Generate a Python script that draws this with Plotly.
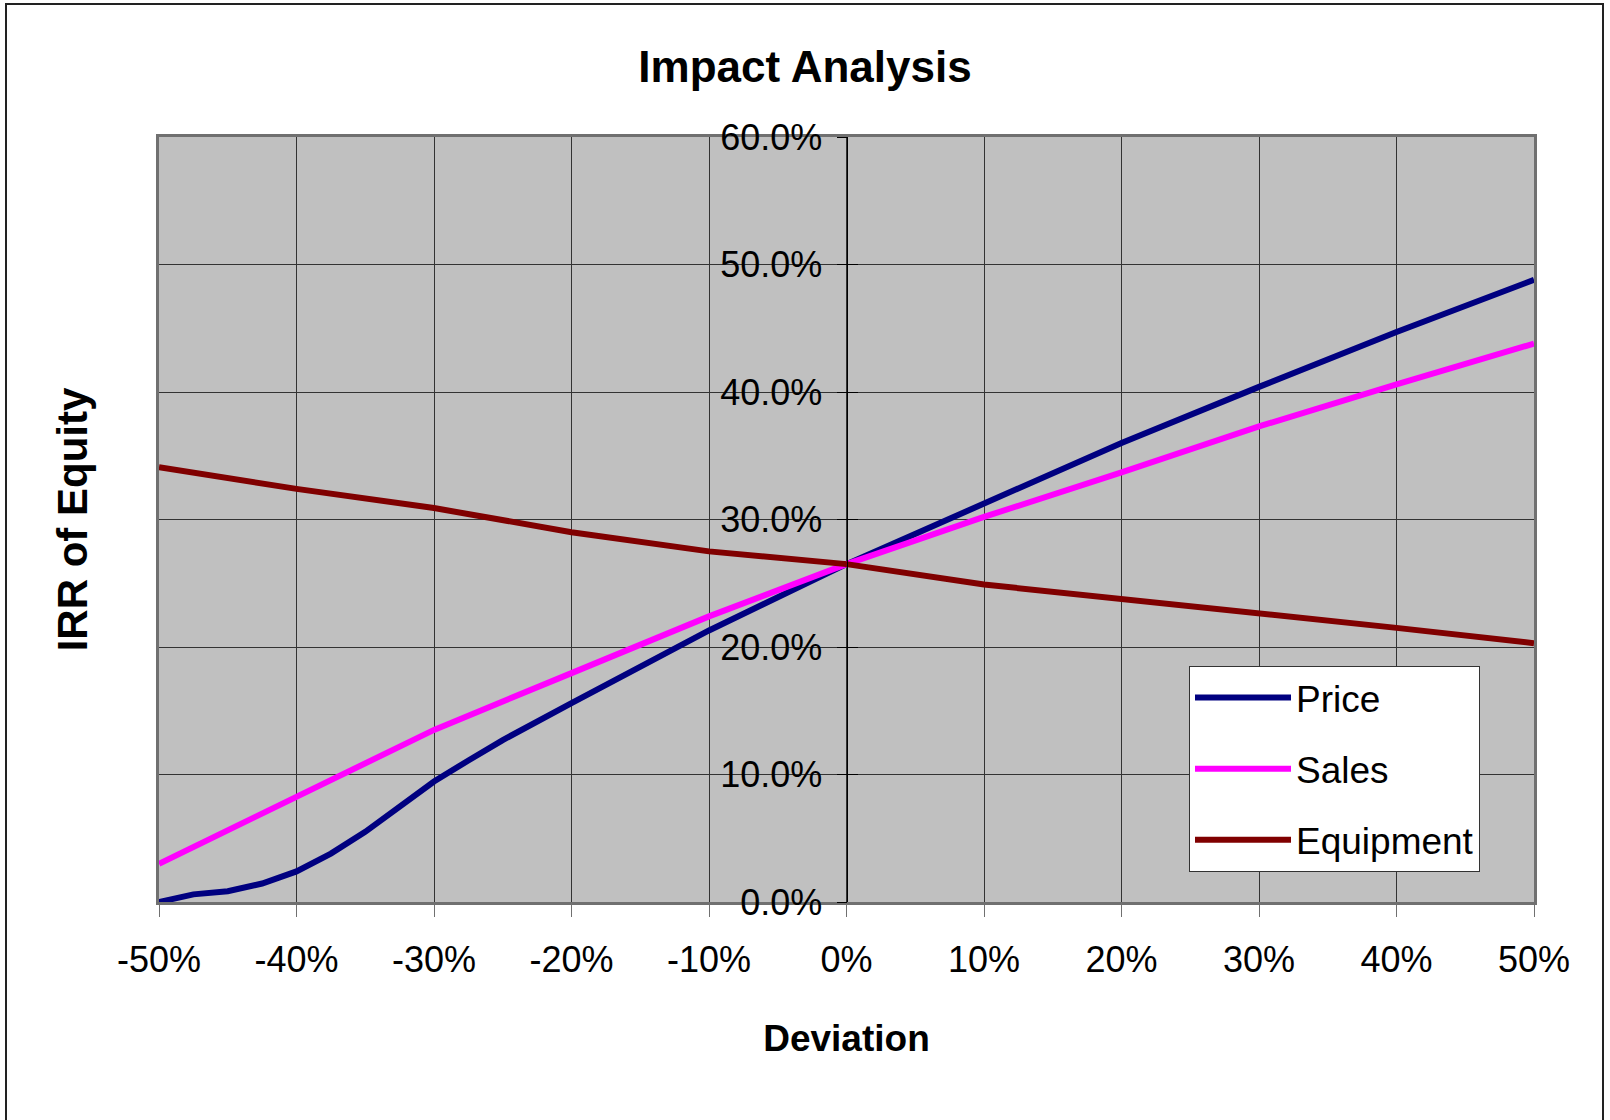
import plotly.graph_objects as go

# ---- data ----
price_x = [-50, -47.5, -45, -42.5, -40, -37.5, -35, -32.5, -30, -27.5, -25, -20, -15, -10, 0, 10, 20, 30, 40, 50]
price_y = [0.0, 0.6, 0.85, 1.45, 2.4, 3.8, 5.5, 7.5, 9.45, 11.1, 12.7, 15.6, 18.4, 21.3, 26.5, 31.3, 36.0, 40.4, 44.7, 48.8]

sales_x = [-50, -40, -30, -20, -10, 0, 10, 20, 30, 40, 50]
sales_y = [3.0, 8.3, 13.5, 17.95, 22.4, 26.5, 30.2, 33.7, 37.3, 40.6, 43.8]

equip_x = [-50, -40, -30, -25, -20, -10, 0, 10, 20, 30, 40, 50]
equip_y = [34.1, 32.4, 30.9, 29.9, 29.0, 27.5, 26.5, 24.9, 23.8, 22.6, 21.5, 20.3]

x_tick_vals = [-50, -40, -30, -20, -10, 0, 10, 20, 30, 40, 50]
x_tick_text = ["-50%", "-40%", "-30%", "-20%", "-10%", "0%", "10%", "20%", "30%", "40%", "50%"]
y_tick_vals = [0, 10, 20, 30, 40, 50, 60]
y_tick_text = ["0.0%", "10.0%", "20.0%", "30.0%", "40.0%", "50.0%", "60.0%"]

FONT = "Liberation Sans, Arial, sans-serif"
W, H = 1610, 1120
L, R, T, B = 159, 76, 137, 218

fig = go.Figure()
series = [
    ("Price", price_x, price_y, "#000080"),
    ("Sales", sales_x, sales_y, "#FF00FF"),
    ("Equipment", equip_x, equip_y, "#800000"),
]
for name, xs, ys, col in series:
    fig.add_trace(go.Scatter(x=xs, y=ys, mode="lines", name=name, legendgroup=name,
                             line=dict(color=col, width=6)))

# empty traces so that the crossing tick axes at 0% deviation are drawn
for ax in ("y2", "y3"):
    fig.add_trace(go.Scatter(x=[], y=[], yaxis=ax, mode="lines", showlegend=False,
                             hoverinfo="skip"))

fig.update_layout(
    width=W, height=H,
    margin=dict(l=L, r=R, t=T, b=B, autoexpand=False),
    paper_bgcolor="white",
    plot_bgcolor="#C0C0C0",
    font=dict(family=FONT, color="black", size=36),
    title=dict(text="<b>Impact Analysis</b>", x=0.5, xref="container", xanchor="center",
               y=1 - 67 / H, yref="container", yanchor="middle",
               font=dict(size=44, family=FONT)),
    showlegend=True,
    legend=dict(x=(1189 - L) / (W - L - R), y=(H - B - 666) / (H - T - B),
                xanchor="left", yanchor="top",
                bgcolor="white", bordercolor="#333333", borderwidth=1,
                font=dict(size=37, family=FONT), tracegroupgap=20, itemwidth=96),
    xaxis=dict(range=[-50, 50], tickvals=x_tick_vals, ticktext=x_tick_text,
               showgrid=True, gridcolor="#333333", gridwidth=1, zeroline=False,
               showline=True, linecolor="#707070", linewidth=3, mirror=True,
               ticks="outside", ticklen=12, tickcolor="#707070", tickwidth=1,
               ticklabelstandoff=12,
               title=dict(text="<b>Deviation</b>", standoff=46, font=dict(size=37))),
    yaxis=dict(range=[0, 60], tickvals=y_tick_vals, showticklabels=False,
               showgrid=True, gridcolor="#333333", gridwidth=1, zeroline=False,
               showline=True, linecolor="#707070", linewidth=3, mirror=True,
               ticks="",
               title=dict(text="<b>IRR of Equity</b>", standoff=56, font=dict(size=42))),
    yaxis2=dict(matches="y", overlaying="y", anchor="free", position=0.5, side="left",
                tickvals=y_tick_vals, ticktext=y_tick_text, showgrid=False, zeroline=False,
                showline=True, linecolor="black", linewidth=1,
                ticks="outside", ticklen=10, tickcolor="black", tickwidth=1,
                ticklabelstandoff=7, tickfont=dict(size=36)),
    yaxis3=dict(matches="y", overlaying="y", anchor="free", position=0.5, side="left",
                tickvals=y_tick_vals, showticklabels=False, showgrid=False, zeroline=False,
                showline=False, ticks="inside", ticklen=10, tickcolor="black", tickwidth=1),
)

# outer chart border
pw, ph = W - L - R, H - T - B
fig.add_shape(type="rect", xref="paper", yref="paper",
              x0=(6 - L) / pw, x1=(1603 - L) / pw,
              y0=(H - B - 1140) / ph, y1=(H - B - 4) / ph,
              line=dict(color="#222222", width=2), fillcolor="rgba(0,0,0,0)", layer="below")

fig.write_html("out.html", config={"displayModeBar": False},
               post_script="document.body.style.margin='0px';")
